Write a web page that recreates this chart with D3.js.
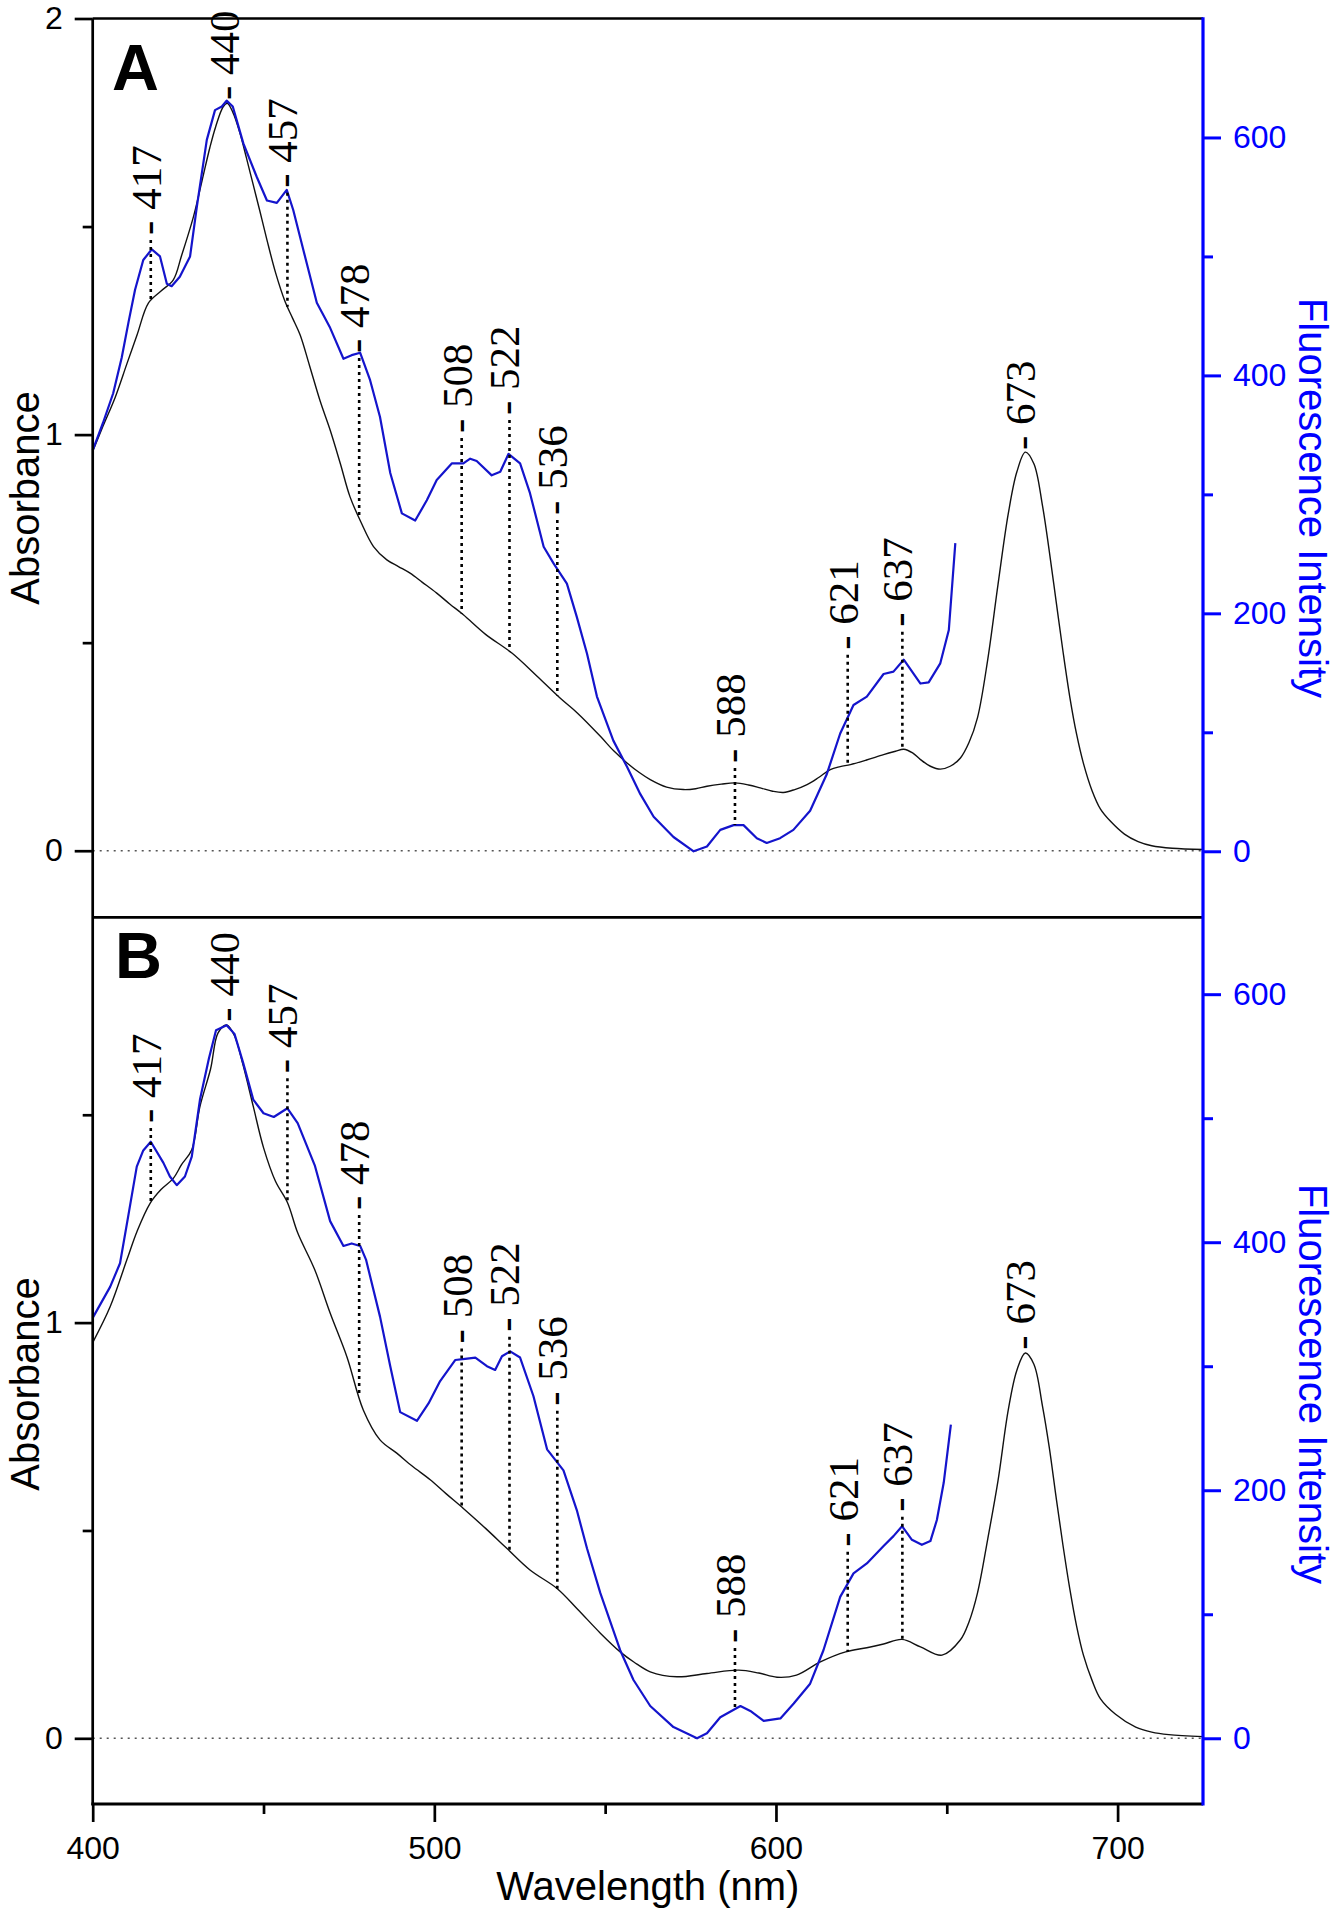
<!DOCTYPE html>
<html lang="en">
<head>
<meta charset="utf-8">
<title>Absorbance and fluorescence excitation spectra</title>
<script src="https://cdn.jsdelivr.net/npm/d3@7"></script>
<style>
  body { margin: 0; background: #fff; }
  svg { display: block; }
  .tick text { font-family: "Liberation Sans", Arial, sans-serif; font-size: 32px; }
  .title { font-family: "Liberation Sans", Arial, sans-serif; font-size: 40px; }
  .peak { font-family: "Liberation Serif", "Times New Roman", serif; font-size: 43px; }
</style>
</head>
<body>
<script>

// ---- data ----
var wavelengthRange = [400, 725];
var xTicks = [400, 500, 600, 700];
var xMinorTicks = [450, 550, 650];

// panel A: absorbance (black) and fluorescence (blue), [nm, value]
var absorbanceA = [[400,0.96],[403,1.02],[406.6,1.09],[410,1.17],[413,1.24],[416.3,1.316],[420,1.345],[423.6,1.372],
  [426,1.43],[429.5,1.524],[432,1.61],[434.3,1.69],[436,1.74],[438.2,1.788],[439.4,1.796],[441,1.775],[443.1,1.725],
  [445,1.665],[447,1.6],[449,1.535],[451,1.468],[453.5,1.39],[456.3,1.32],[458.5,1.28],[460.7,1.24],[463.5,1.165],
  [466.6,1.08],[469.5,1.011],[472.5,0.93],[475.3,0.851],[478.5,0.79],[482.2,0.731],[486.1,0.699],[489.5,0.683],
  [492.9,0.667],[496.5,0.645],[500.7,0.619],[504.5,0.593],[508.5,0.567],[515,0.52],[522.7,0.475],[530,0.42],
  [536.8,0.367],[542,0.33],[548.6,0.275],[552.5,0.24],[556.4,0.211],[560,0.188],[563.2,0.171],[568,0.153],
  [572.9,0.147],[576.5,0.149],[579.8,0.155],[584,0.16],[588.1,0.163],[592,0.158],[595.4,0.151],[599,0.143],
  [602.2,0.14],[605.5,0.147],[609.1,0.159],[612.5,0.176],[615.9,0.195],[618.8,0.202],[621.8,0.207],[626.5,0.218],
  [631.5,0.231],[635,0.239],[637.4,0.244],[640,0.235],[642.3,0.219],[645.2,0.203],[648.1,0.196],[651,0.203],
  [654,0.223],[656.5,0.26],[659,0.32],[662,0.46],[665,0.64],[668,0.81],[670.5,0.91],[673,0.958],[675.5,0.93],
  [678,0.83],[680,0.72],[682,0.6],[684,0.48],[686,0.37],[688,0.28],[690,0.21],[692.5,0.145],[695,0.1],
  [698,0.07],[702,0.04],[706,0.022],[710,0.012],[716,0.006],[725,0.003]];

var fluorescenceA = [[400,337],[403,360],[406,385],[408.5,415],[410.5,445],[412.4,472],[414.8,497],[417.3,506],
  [419.7,500],[421.7,477],[423.1,475],[425.5,483],[428.5,500],[430.5,542],[433.4,598],[435.8,623],[437.8,626],
  [439.2,631],[441,626],[444.1,595],[448,567],[451,547],[453.9,545],[456.8,556],[458.7,539],[461.7,505],
  [465.6,461],[469.5,440],[473.4,414],[475.8,417],[478.3,419],[481.2,396],[484.1,365],[487.1,318],[490.5,284],
  [494.4,278],[497.8,295],[500.7,312],[505.1,326],[508.5,326],[510.5,330],[512.4,328],[516.8,316],[519.3,319],
  [521.7,334],[525.1,326],[528,301],[532,256],[534.9,242],[538.8,225],[541.7,197],[544.7,166],[547.6,130],
  [552.4,93],[556.4,71],[560.3,48],[564.2,29],[570,12],[575.9,0],[579.8,4],[583.7,18],[587.6,22],[590.5,22],
  [594.4,11],[597.3,7],[601.2,11],[605.1,18],[610,34],[614.9,65],[618.8,99],[622.7,123],[626.6,130],[631.5,149],
  [634.4,151],[637.4,161],[642.3,141],[644.7,142],[648.1,158],[650.6,186],[652.5,259]];

// panel B
var absorbanceB = [[400,0.952],[405.1,1.038],[410,1.151],[413,1.22],[416.8,1.287],[420,1.32],[423.6,1.347],
  [426,1.38],[429,1.416],[431.4,1.52],[434.5,1.61],[436.7,1.697],[439.2,1.716],[441.5,1.69],[444,1.62],[447,1.52],
  [450,1.421],[453.5,1.34],[457,1.289],[460,1.216],[465,1.127],[469.5,1.023],[474.4,0.918],[479.2,0.79],
  [484.1,0.718],[489,0.686],[493.5,0.655],[498.8,0.622],[503.5,0.588],[508.5,0.553],[515,0.505],[521.2,0.457],
  [528,0.405],[536,0.36],[542,0.31],[548.6,0.253],[554.4,0.208],[558.5,0.183],[563.2,0.16],[571,0.148],
  [579.8,0.156],[589.1,0.164],[595,0.157],[600.3,0.147],[606,0.152],[613,0.184],[620.4,0.208],[626.6,0.218],
  [631.5,0.227],[636.9,0.238],[642.3,0.22],[648.6,0.2],[654,0.237],[656.5,0.28],[659,0.35],[662,0.48],[665,0.62],
  [668,0.79],[670.5,0.885],[673,0.927],[675.5,0.9],[678,0.8],[680,0.7],[682,0.58],[684,0.465],[686,0.36],
  [688,0.27],[690,0.2],[692.5,0.14],[695,0.095],[699.4,0.058],[705.3,0.027],[710,0.015],[715,0.009],[725,0.004]];

var fluorescenceB = [[400,339],[405.1,364],[408,383],[410.4,421],[412.9,461],[414.8,474],[417,481],[420.7,464],
  [422.6,453],[424.6,446],[427,453],[429,469],[431.4,515],[434,548],[436.1,571],[439.2,575],[441.5,568],[444,545],
  [447,515],[450,504],[453,501],[457,508],[460,496],[465,462],[469.5,417],[473.4,397],[475.8,399],[478.3,397],
  [480,386],[484.1,340],[487.1,300],[490,263],[494.9,256],[498.3,270],[501.7,288],[506.1,305],[509,306],
  [512,307],[515.4,300],[517.8,297],[519.8,308],[522.2,312],[525.1,307],[529,276],[533,233],[537.8,216],
  [541.7,184],[544.7,153],[548.6,117],[554.4,71],[558.3,47],[563.2,26],[570,9],[576.9,0],[579.8,4],[583.7,17],
  [589.6,26],[592.5,22],[596.4,14],[601.3,16],[605.2,28],[610,44],[613.9,71],[618.8,114],[622.7,133],[626.6,141],
  [631.5,155],[634.4,163],[636.9,171],[639.8,160],[642.7,156],[645.2,159],[647.1,176],[649.1,206],[651.2,253]];

// marked peaks (nm) and absorbance level where each label sits
var peaks = [417, 440, 457, 478, 508, 522, 536, 588, 621, 637, 673];
var labelLevelA = [1.48, 1.804, 1.593, 1.196, 1.004, 1.047, 0.807, 0.211, 0.483, 0.538, 0.963];
var labelLevelB = [1.48, 1.724, 1.6, 1.271, 0.95, 0.978, 0.8, 0.229, 0.461, 0.545, 0.935];

// axis ranges and ticks
var absRangeA = [-0.16, 2], fluRangeA = [-55.5, 700];
var absRangeB = [-0.158, 1.975], fluRangeB = [-53, 662];
var absTicksA = [0, 1, 2], absTicksB = [0, 1], absMinorTicks = [0.5, 1.5];
var fluTicks = [0, 200, 400, 600], fluMinorTicks = [100, 300, 500];

// ---- drawing ----
var w = 1335, h = 1914;
var left = 92.7, right = 1203;
var blueAxis = "#0000ff", blueLine = "#1414cc";

var svg = d3.select("body").append("svg")
  .attr("width", w)
  .attr("height", h);

var x = d3.scaleLinear().domain(wavelengthRange).range([left, right]);

var panels = [
  { top: 18.5, bottom: 917.3, absRange: absRangeA, fluRange: fluRangeA, abs: absorbanceA, flu: fluorescenceA,
    levels: labelLevelA, absTicks: absTicksA, letter: "A", letterY: 90, letterX: 112, titleY: 498 },
  { top: 917.3, bottom: 1804, absRange: absRangeB, fluRange: fluRangeB, abs: absorbanceB, flu: fluorescenceB,
    levels: labelLevelB, absTicks: absTicksB, letter: "B", letterY: 978, letterX: 115, titleY: 1384 }
];

// piecewise linear lookup of a series at a wavelength
function lookup(series) {
  return d3.scaleLinear().domain(series.map(function(d){ return d[0]; }))
    .range(series.map(function(d){ return d[1]; })).clamp(true);
}

panels.forEach(function(p) {
  var y = d3.scaleLinear().domain(p.absRange).range([p.bottom, p.top]);
  var yf = d3.scaleLinear().domain(p.fluRange).range([p.bottom, p.top]);
  var g = svg.append("g");

  // zero line
  g.append("line")
    .attr("x1", x(wavelengthRange[0])).attr("x2", x(wavelengthRange[1]))
    .attr("y1", y(0)).attr("y2", y(0))
    .attr("stroke", "#555").attr("stroke-width", 1.4).attr("stroke-dasharray", "2,5");

  // absorbance
  g.append("path")
    .datum(p.abs)
    .attr("fill", "none").attr("stroke", "#111").attr("stroke-width", 1.4)
    .attr("d", d3.line().curve(d3.curveCatmullRom.alpha(0.5))
      .x(function(d){ return x(d[0]); })
      .y(function(d){ return y(d[1]); }));

  // fluorescence
  g.append("path")
    .datum(p.flu)
    .attr("fill", "none").attr("stroke", blueLine).attr("stroke-width", 2.2)
    .attr("stroke-linejoin", "round")
    .attr("d", d3.line()
      .x(function(d){ return x(d[0]); })
      .y(function(d){ return yf(d[1]); }));

  // peak labels with dotted drop lines
  var absAt = lookup(p.abs), fluAt = lookup(p.flu);
  var fluEnd = p.flu[p.flu.length - 1][0];
  peaks.forEach(function(wl, i) {
    var yTop = y(p.levels[i]);
    var yLow = y(absAt(wl));
    if (wl <= fluEnd) yLow = Math.max(yLow, yf(fluAt(wl)));
    if (yLow - yTop > 10) {
      g.append("line")
        .attr("x1", x(wl)).attr("x2", x(wl))
        .attr("y1", yTop + 5).attr("y2", yLow)
        .attr("stroke", "#000").attr("stroke-width", 2.6)
        .attr("stroke-dasharray", "3,4");
    }
    g.append("text")
      .attr("class", "peak")
      .attr("transform", "translate(" + x(wl) + "," + yTop + ") rotate(-90)")
      .attr("dy", "0.23em")
      .text("- " + wl);
  });

  // left axis ticks
  g.append("g")
    .attr("transform", "translate(" + left + ",0)")
    .call(d3.axisLeft(y).tickValues(p.absTicks).tickSize(18).tickSizeOuter(0).tickPadding(12)
      .tickFormat(d3.format("d")))
    .call(function(a){ a.select(".domain").remove(); })
    .call(function(a){ a.selectAll("line").attr("stroke-width", 2.7); })
    .call(function(a){ a.selectAll("text").attr("fill", "#000"); });
  g.append("g")
    .attr("transform", "translate(" + left + ",0)")
    .call(d3.axisLeft(y).tickValues(absMinorTicks).tickSize(10).tickFormat(""))
    .call(function(a){ a.select(".domain").remove(); })
    .call(function(a){ a.selectAll("line").attr("stroke-width", 2.7); });

  // right axis ticks
  g.append("g")
    .attr("transform", "translate(" + right + ",0)")
    .call(d3.axisRight(yf).tickValues(fluTicks).tickSize(18).tickPadding(12))
    .call(function(a){ a.select(".domain").remove(); })
    .call(function(a){ a.selectAll("line").attr("stroke", blueAxis).attr("stroke-width", 3); })
    .call(function(a){ a.selectAll("text").attr("fill", blueAxis); });
  g.append("g")
    .attr("transform", "translate(" + right + ",0)")
    .call(d3.axisRight(yf).tickValues(fluMinorTicks).tickSize(10).tickFormat(""))
    .call(function(a){ a.select(".domain").remove(); })
    .call(function(a){ a.selectAll("line").attr("stroke", blueAxis).attr("stroke-width", 3); });

  // axis titles and panel letter
  g.append("text")
    .attr("class", "title")
    .attr("text-anchor", "middle")
    .attr("transform", "translate(39," + p.titleY + ") rotate(-90)")
    .text("Absorbance");
  g.append("text")
    .attr("class", "title")
    .attr("font-size", 41.5)
    .attr("text-anchor", "middle")
    .attr("fill", blueAxis)
    .attr("transform", "translate(1299," + p.titleY + ") rotate(90)")
    .text("Fluorescence Intensity");
  g.append("text")
    .attr("x", p.letterX).attr("y", p.letterY)
    .attr("font-family", "Liberation Sans, Arial, sans-serif")
    .attr("font-weight", "bold").attr("font-size", 65)
    .text(p.letter);
});

// bottom axis
var xAxisY = panels[1].bottom;
svg.append("g")
  .attr("transform", "translate(0," + xAxisY + ")")
  .call(d3.axisBottom(x).tickValues(xTicks).tickSize(18).tickPadding(14))
  .call(function(a){ a.select(".domain").remove(); })
  .call(function(a){ a.selectAll("line").attr("stroke-width", 2.7); });
svg.append("g")
  .attr("transform", "translate(0," + xAxisY + ")")
  .call(d3.axisBottom(x).tickValues(xMinorTicks).tickSize(10).tickFormat(""))
  .call(function(a){ a.select(".domain").remove(); })
  .call(function(a){ a.selectAll("line").attr("stroke-width", 2.7); });

svg.append("text")
  .attr("class", "title")
  .attr("x", (left + right) / 2).attr("y", 1900)
  .attr("text-anchor", "middle")
  .text("Wavelength (nm)");

// frame
var frame = svg.append("g").attr("stroke", "#000").attr("stroke-width", 2.7);
frame.append("line").attr("x1", left).attr("x2", left).attr("y1", panels[0].top).attr("y2", xAxisY + 1.3);
frame.append("line").attr("x1", left).attr("x2", right).attr("y1", panels[0].top).attr("y2", panels[0].top);
frame.append("line").attr("x1", left).attr("x2", right).attr("y1", panels[1].top).attr("y2", panels[1].top);
frame.append("line").attr("x1", left - 1.3).attr("x2", right).attr("y1", xAxisY).attr("y2", xAxisY)
  .attr("stroke-width", 3);
svg.append("line")
  .attr("x1", right).attr("x2", right)
  .attr("y1", panels[0].top - 1.3).attr("y2", xAxisY + 1.5)
  .attr("stroke", blueAxis).attr("stroke-width", 3.2);

</script>
</body>
</html>
